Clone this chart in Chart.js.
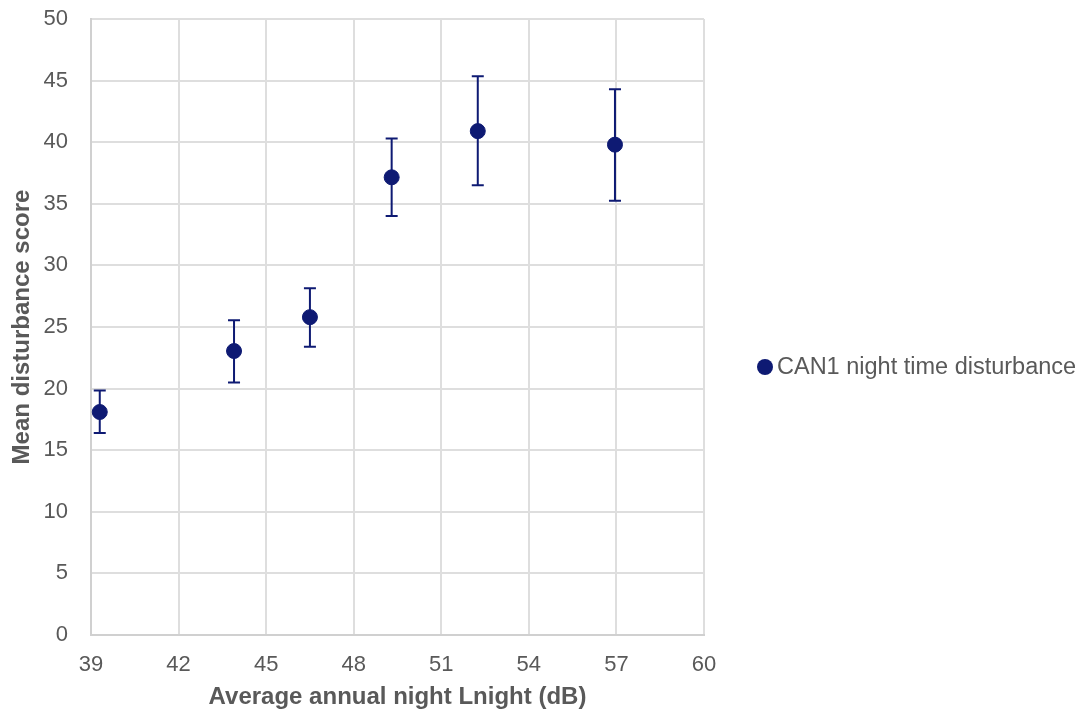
<!DOCTYPE html>
<html>
<head>
<meta charset="utf-8">
<script src="https://cdn.jsdelivr.net/npm/chart.js@4/dist/chart.umd.min.js"></script>
<style>
  html, body { margin: 0; padding: 0; background: #fff; }
  #wrap { width: 1084px; height: 713px; position: relative; }
</style>
</head>
<body>
<div id="wrap"><canvas id="chart"></canvas></div>
<script>
// Chart data
const seriesName = 'CAN1 night time disturbance';
const noiseLevels = [39.3, 43.9, 46.5, 49.3, 52.25, 56.95];
const meanScores = [18.1, 23.05, 25.8, 37.15, 40.9, 39.8];
const upperBounds = [19.85, 25.55, 28.15, 40.3, 45.35, 44.3];
const lowerBounds = [16.4, 20.5, 23.4, 34.0, 36.5, 35.25];

const markColor = '#0e1a73';
const textColor = '#595959';
const gridColor = '#dedede';
const fontFamily = '"Liberation Sans", Arial, sans-serif';

// Error bars, drawn before the points so the dots sit on top
const errorBars = {
  id: 'errorBars',
  beforeDatasetsDraw(chart) {
    const { ctx, scales: { x, y } } = chart;
    const cap = 6;
    ctx.save();
    ctx.strokeStyle = markColor;
    ctx.lineWidth = 2;
    noiseLevels.forEach((lvl, i) => {
      const px = x.getPixelForValue(lvl);
      const top = y.getPixelForValue(upperBounds[i]);
      const bot = y.getPixelForValue(lowerBounds[i]);
      ctx.beginPath();
      ctx.moveTo(px, top);
      ctx.lineTo(px, bot);
      ctx.moveTo(px - cap, top);
      ctx.lineTo(px + cap, top);
      ctx.moveTo(px - cap, bot);
      ctx.lineTo(px + cap, bot);
      ctx.stroke();
    });
    ctx.restore();
  }
};

// Legend to the right of the plot
const sideLegend = {
  id: 'sideLegend',
  afterDraw(chart) {
    const { ctx, chartArea } = chart;
    const cx = chartArea.right + 61;
    const cy = 367;
    ctx.save();
    ctx.fillStyle = markColor;
    ctx.beginPath();
    ctx.arc(cx, cy, 8, 0, Math.PI * 2);
    ctx.fill();
    ctx.fillStyle = textColor;
    ctx.font = '23.5px ' + fontFamily;
    ctx.textBaseline = 'middle';
    ctx.fillText(chart.data.datasets[0].label, cx + 12, cy + 1);
    ctx.restore();
  }
};

const ctx = document.getElementById('chart').getContext('2d');
new Chart(ctx, {
  type: 'scatter',
  data: {
    datasets: [{
      label: seriesName,
      data: noiseLevels.map((lvl, i) => ({ x: lvl, y: meanScores[i] })),
      backgroundColor: markColor,
      borderColor: markColor,
      pointRadius: 7.5,
      pointHoverRadius: 7.5
    }]
  },
  options: {
    responsive: true,
    maintainAspectRatio: false,
    animation: false,
    layout: { padding: { top: 19, right: 380, left: 0, bottom: 0 } },
    plugins: {
      legend: { display: false },
      tooltip: { enabled: false }
    },
    scales: {
      x: {
        type: 'linear',
        min: 39,
        max: 60,
        ticks: {
          stepSize: 3,
          color: textColor,
          padding: 17,
          font: { family: fontFamily, size: 22 }
        },
        grid: { color: gridColor, lineWidth: 2, drawTicks: false },
        border: { color: '#d0d0d0', width: 2 },
        title: {
          display: true,
          text: 'Average annual night Lnight (dB)',
          color: textColor,
          padding: { top: 0, bottom: 1 },
          font: { family: fontFamily, size: 24, weight: 'bold' }
        },
        afterFit(scale) { scale.height = 78; }
      },
      y: {
        min: 0,
        max: 50,
        ticks: {
          stepSize: 5,
          color: textColor,
          padding: 23,
          font: { family: fontFamily, size: 22 }
        },
        grid: { color: gridColor, lineWidth: 2, drawTicks: false },
        border: { color: '#d0d0d0', width: 2 },
        title: {
          display: true,
          text: 'Mean disturbance score',
          color: textColor,
          padding: { top: 8, bottom: 0 },
          font: { family: fontFamily, size: 24, weight: 'bold' }
        },
        afterFit(scale) {
          scale.width = 91;
          // let the layout padding alone set the plot top
          scale.paddingTop = 0;
          scale.paddingBottom = 0;
        }
      }
    }
  },
  plugins: [errorBars, sideLegend]
});
</script>
</body>
</html>
